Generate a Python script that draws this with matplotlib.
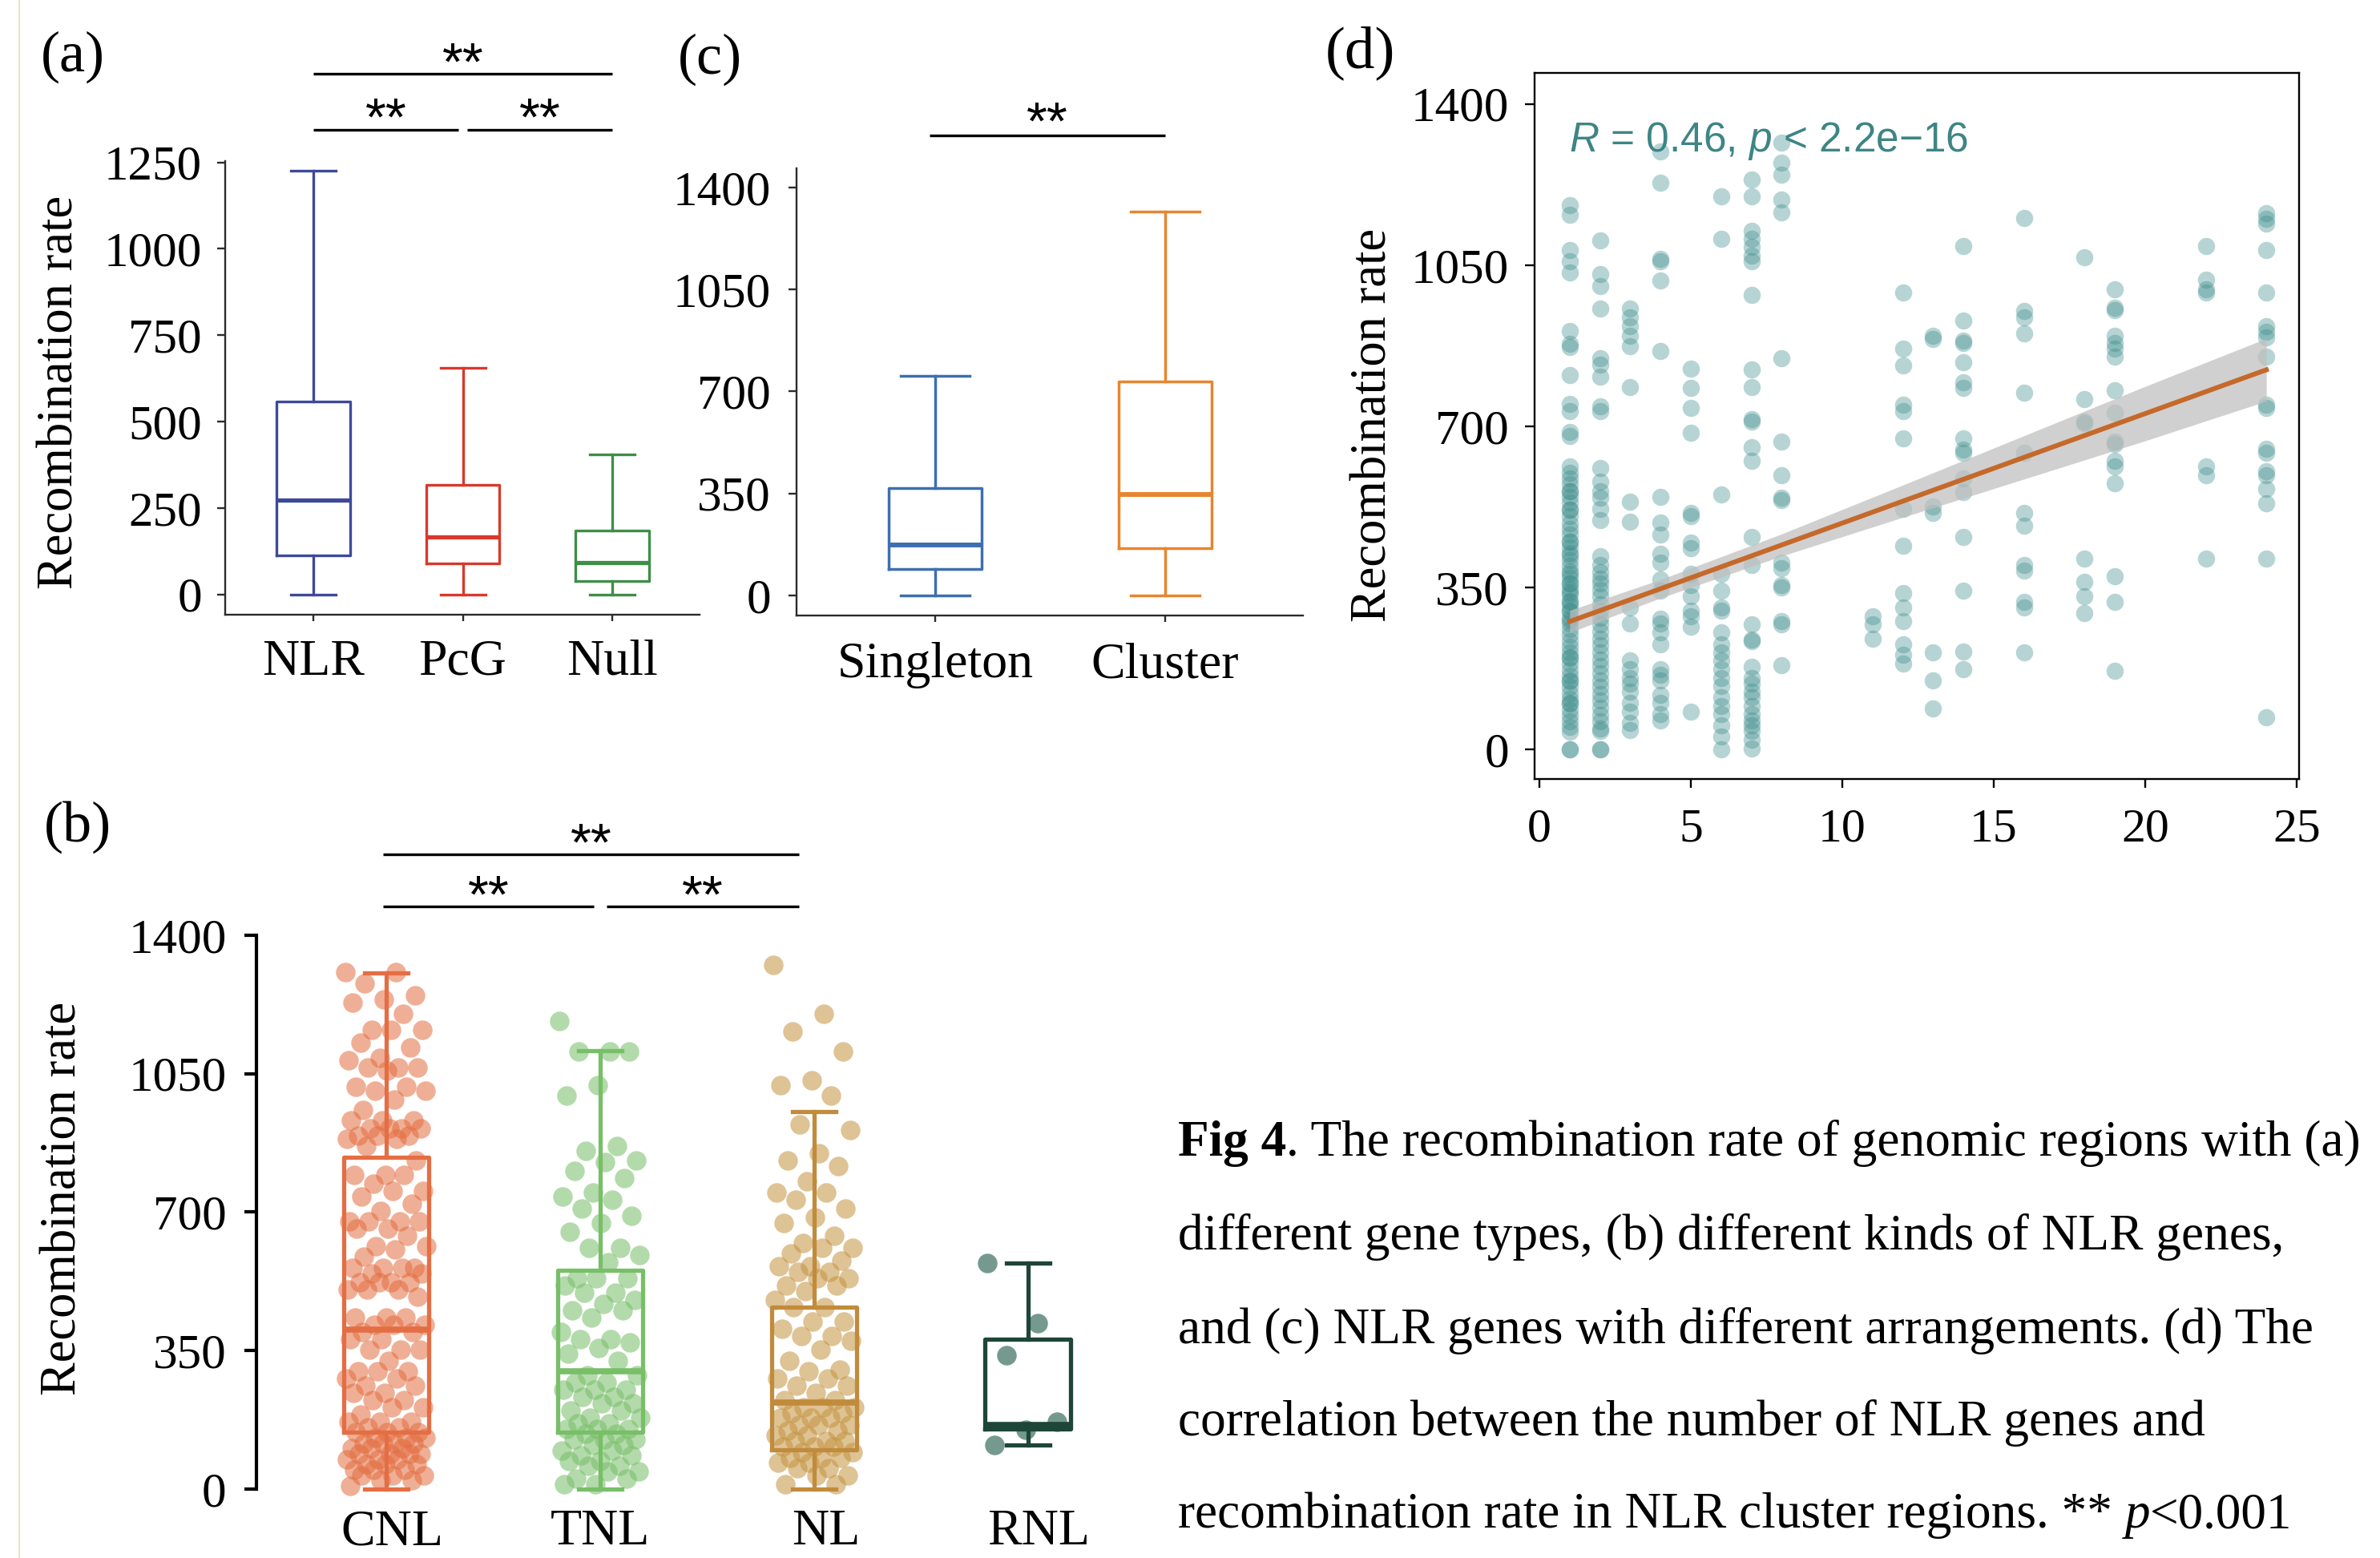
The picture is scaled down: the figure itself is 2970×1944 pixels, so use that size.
import numpy as np
import matplotlib
matplotlib.use('Agg')
import matplotlib.pyplot as plt
import matplotlib.transforms as mtransforms
from matplotlib.lines import Line2D

W, H, DPI = 2970, 1944, 100
SERIF = 'Liberation Serif'
SANS = 'Liberation Sans'

plt.rcParams['font.family'] = SERIF
plt.rcParams['mathtext.fontset'] = 'custom'
plt.rcParams['mathtext.rm'] = SANS
plt.rcParams['mathtext.it'] = SANS + ':italic'
plt.rcParams['mathtext.bf'] = SANS + ':bold'

# ---- (a) gene types: box summaries ----
a_groups = ['NLR', 'PcG', 'Null']
a_low = [0, 0, 0]
a_q1 = [112, 89, 39]
a_med = [274, 166, 93]
a_q3 = [558, 317, 185]
a_high = [1225, 656, 405]
a_colors = ['#3D4A9A', '#D8392B', '#3E8E48']

# ---- (c) arrangement ----
c_groups = ['Singleton', 'Cluster']
c_low = [0, 0]
c_q1 = [92, 161]
c_med = [172, 346]
c_q3 = [369, 734]
c_high = [753, 1318]
c_colors = ['#3D6FB0', '#E8852F']

# ---- (b) NLR kinds ----
b_groups = ['CNL', 'TNL', 'NL', 'RNL']
b_low = [0, 0, 0, 112]
b_q1 = [144, 144, 99, 153]
b_med = [404, 298, 219, 163]
b_q3 = [838, 553, 459, 379]
b_high = [1304, 1108, 954, 571]
b_box_colors = ['#E46E44', '#78BF68', '#C18B3C', '#1D4638']
b_pt_colors = ['#E36D40', '#76BD66', '#C4923F', '#3A6E60']

cnl_pts = [1306, 1306, 1279, 1247, 1238, 1229, 1202, 1161, 1161, 1161, 1129, 1116,
           1089, 1084, 1066, 1066, 1066, 1057, 1016, 1016, 1007, 1007, 985, 958,
           931, 931, 931, 912, 912, 912, 912, 894, 894, 894, 885, 885, 867, 831,
           795, 795, 795, 772, 754, 754, 740, 722, 704, 677, 677, 677, 677, 659, 659,
           641, 614, 614, 605, 587, 560, 560, 560, 560, 546, 546, 523, 523, 523, 523,
           505, 505, 505, 487, 433, 433, 433, 415, 415, 415, 397, 397, 379, 379,
           352, 352, 352, 324, 297, 297, 297, 279, 279, 261, 261, 243, 243, 225, 225,
           207, 207, 189, 171, 171, 171, 157, 157, 144, 144, 144, 130, 130, 130,
           116, 116, 116, 116, 103, 103, 103, 89, 89, 89, 89, 76, 76, 76, 62, 62, 62,
           49, 49, 49, 35, 35, 35, 22, 22, 8]
tnl_pts = [1184, 1107, 1107, 1107, 1021, 994, 867, 854, 831, 826, 804, 786, 750, 740,
           731, 709, 691, 673, 650, 609, 609, 591, 573, 532, 532, 532, 515, 496, 496,
           478, 469, 451, 451, 433, 397, 379, 379, 370, 356, 343, 324, 288, 288, 270,
           270, 252, 252, 252, 234, 234, 216, 216, 198, 198, 180, 180, 166, 166, 153,
           153, 153, 139, 139, 126, 126, 126, 112, 112, 98, 98, 85, 85, 71, 71, 58, 58,
           44, 44, 26, 26, 13, 13]
nl_pts = [1324, 1202, 1157, 1107, 1034, 1021, 994, 921, 908, 849, 831, 817, 777, 749,
          749, 731, 709, 686, 673, 641, 623, 609, 609, 596, 578, 564, 564, 550, 550,
          532, 532, 515, 515, 501, 478, 460, 460, 424, 424, 406, 388, 388, 374, 352,
          324, 302, 297, 279, 279, 261, 261, 243, 225, 225, 207, 207, 207, 193, 193,
          180, 180, 180, 162, 162, 162, 148, 148, 135, 135, 121, 121, 121, 107, 107,
          107, 94, 94, 80, 80, 80, 67, 67, 53, 53, 35, 35, 13, 13]
rnl_pts = [571, 420, 339, 170, 150, 112]
b_points = [cnl_pts, tnl_pts, nl_pts, rnl_pts]

# ---- (d) number of NLR genes vs recombination rate ----
d_counts = [1, 2, 3, 4, 5, 6, 7, 8, 11, 12, 13, 14, 16, 18, 19, 22, 24]
d_rates = [
    [1180, 1159, 1083, 1058, 1034, 908, 879, 872, 812, 749, 734, 688, 680, 613, 600,
     588, 575, 560, 560, 548, 535, 520, 520, 505, 490, 478, 465, 450, 450, 438, 425,
     420, 410, 398, 385, 380, 372, 360, 360, 348, 340, 335, 322, 320, 310, 300, 298,
     285, 280, 272, 260, 248, 235, 222, 210, 200, 198, 185, 172, 160, 150, 148, 135,
     122, 110, 100, 98, 85, 72, 60, 48, 38, 0, 0],
    [1104, 1031, 1005, 956, 848, 835, 808, 744, 734, 610, 580, 560, 545, 521, 497,
     418, 400, 383, 370, 360, 345, 332, 314, 300, 285, 270, 255, 240, 225, 210, 195,
     180, 165, 150, 135, 120, 105, 90, 75, 60, 45, 39, 0, 0],
    [955, 936, 918, 897, 875, 786, 536, 493, 308, 273, 192, 173, 155, 143, 125, 100,
     82, 57, 41],
    [1296, 1229, 1064, 1058, 1016, 863, 548, 491, 466, 424, 405, 369, 344, 283, 273,
     253, 228, 173, 161, 149, 118, 100, 76, 63],
    [826, 784, 741, 686, 513, 505, 448, 436, 381, 356, 332, 301, 289, 265, 82],
    [1199, 1107, 552, 381, 344, 308, 301, 253, 228, 210, 192, 173, 155, 137, 112, 94,
     76, 51, 27, 0],
    [1235, 1199, 1125, 1107, 1089, 1071, 1058, 985, 823, 786, 716, 710, 655, 625, 460,
     399, 271, 237, 234, 179, 155, 143, 125, 112, 94, 76, 63, 51, 39, 21, 2],
    [1315, 1272, 1247, 1193, 1164, 848, 668, 594, 546, 540, 405, 393, 356, 350, 277,
     271, 182],
    [289, 271, 240],
    [991, 869, 832, 747, 734, 674, 521, 442, 338, 308, 277, 228, 204, 186],
    [897, 890, 527, 513, 210, 149, 88],
    [1091, 930, 887, 881, 839, 796, 784, 674, 650, 643, 588, 558, 460, 344, 212, 173],
    [1152, 951, 936, 902, 774, 643, 513, 485, 399, 387, 320, 308, 210],
    [1067, 759, 710, 708, 414, 363, 332, 295],
    [997, 957, 952, 896, 881, 869, 851, 778, 729, 668, 662, 625, 613, 576, 375, 320,
     170],
    [1091, 1018, 997, 991, 613, 594, 414],
    [1162, 1150, 1140, 1083, 991, 918, 906, 893, 851, 747, 741, 652, 643, 603, 594,
     564, 533, 414, 70],
]
fit_x = [1, 4, 8, 12, 16, 20, 24]
fit_y = [277, 348, 443, 538, 633, 728, 823]
fit_lo = [253, 328, 419, 503, 586, 669, 755]
fit_hi = [301, 368, 467, 573, 680, 787, 891]

fig = plt.figure(figsize=(W / DPI, H / DPI), dpi=DPI)


def box(l, t, r, b):
    return [l / W, 1 - b / H, (r - l) / W, (b - t) / H]


def stats(low, q1, med, q3, high):
    return [dict(whislo=a, q1=b, med=c, q3=d, whishi=e, fliers=[])
            for a, b, c, d, e in zip(low, q1, med, q3, high)]


def draw_boxes(ax, st, colors, width, capw, lw, mlw):
    pos = np.arange(1, len(st) + 1)
    art = ax.bxp(st, positions=pos, widths=width, capwidths=capw, showfliers=False,
                 patch_artist=False, manage_ticks=False)
    for i, c in enumerate(colors):
        art['boxes'][i].set(color=c, linewidth=lw)
        art['medians'][i].set(color=c, linewidth=mlw, solid_capstyle='butt')
        for k in (2 * i, 2 * i + 1):
            art['whiskers'][k].set(color=c, linewidth=lw)
            art['caps'][k].set(color=c, linewidth=lw)
    return pos


def sig(ax, x0, x1, y, off, lw=2.4):
    ax.plot([x0, x1], [y, y], color='black', lw=lw, clip_on=False,
            solid_capstyle='butt')
    ax.annotate('**', xy=((x0 + x1) / 2, y), xytext=(0, off), textcoords='offset points',
                ha='center', va='baseline', fontsize=48, family=SANS,
                annotation_clip=False)


def style_classic(ax, col='#2b2b2b'):
    for s in ('top', 'right'):
        ax.spines[s].set_visible(False)
    for s in ('left', 'bottom'):
        ax.spines[s].set_color(col)
        ax.spines[s].set_linewidth(1.7)


# ---------- panel (a) ----------
ax_a = fig.add_axes(box(281, 201, 873, 767))
pos = draw_boxes(ax_a, stats(a_low, a_q1, a_med, a_q3, a_high), a_colors, 0.49, 0.3, 2.4, 3.8)
ax_a.set_xlim(0.41, 3.584)
ax_a.set_ylim(-58.7, 1253.7)
ax_a.set_yticks([0, 250, 500, 750, 1000, 1250])
ax_a.set_xticks(pos)
ax_a.set_xticklabels(a_groups)
style_classic(ax_a)
ax_a.tick_params(axis='y', length=7, width=1.7, pad=14, labelsize=44, color='#2b2b2b')
ax_a.tick_params(axis='x', length=6, width=1.7, pad=16, labelsize=46, color='#2b2b2b')
sig(ax_a, 1, 3, 1506, -5)
sig(ax_a, 1, 1.97, 1344, -5)
sig(ax_a, 2.03, 3, 1344, -5)

# ---------- panel (c) ----------
ax_c = fig.add_axes(box(994, 210, 1626, 768))
pos = draw_boxes(ax_c, stats(c_low, c_q1, c_med, c_q3, c_high), c_colors, 0.405, 0.3, 2.5, 4.3)
ax_c.set_xlim(0.397, 2.599)
ax_c.set_ylim(-68.8, 1466)
ax_c.set_yticks([0, 350, 700, 1050, 1400])
ax_c.set_xticks(pos)
ax_c.set_xticklabels(c_groups)
style_classic(ax_c)
ax_c.tick_params(axis='y', length=7, width=1.7, pad=16, labelsize=44, color='#2b2b2b')
ax_c.tick_params(axis='x', length=6, width=1.7, pad=18, labelsize=46, color='#2b2b2b')
sig(ax_c, 0.976, 2.0, 1579, -3.5)

# ---------- panel (b) ----------
ax_b = fig.add_axes(box(320, 1161, 1443, 1864))
for i, (vals, col) in enumerate(zip(b_points, b_pt_colors)):
    n = len(vals)
    jit = ((np.arange(n) * 0.618034) % 1.0 - 0.5) * 0.38
    alpha = 0.7 if i == 3 else 0.55
    ax_b.scatter(i + 1 + jit, vals, s=310, color=col, alpha=alpha, linewidths=0,
                 clip_on=False, zorder=2)
pos = draw_boxes(ax_b, stats(b_low, b_q1, b_med, b_q3, b_high), b_box_colors, 0.40, 0.2, 3.8, 5.5)
ax_b.set_xlim(0.393, 4.6)
ax_b.set_ylim(-12, 1412)
ax_b.set_yticks([0, 350, 700, 1050, 1400])
ax_b.set_xticks(pos)
ax_b.set_xticklabels(b_groups)
for s in ('top', 'right', 'bottom'):
    ax_b.spines[s].set_visible(False)
ax_b.spines['left'].set_linewidth(3.0)
ax_b.spines['left'].set_bounds(0, 1400)
ax_b.tick_params(axis='y', length=11, width=3.0, pad=16, labelsize=44)
ax_b.tick_params(axis='x', length=0, pad=14, labelsize=46)
# the labels in the reference sit a little right of their boxes
for lab, dx in zip(ax_b.get_xticklabels(), [7, 0, 15, 13]):
    lab.set_transform(lab.get_transform() +
                      mtransforms.ScaledTranslation(dx / DPI, 0, fig.dpi_scale_trans))
sig(ax_b, 0.985, 2.93, 1605, -5.5)
sig(ax_b, 0.985, 1.97, 1473, -5.5)
sig(ax_b, 2.03, 2.93, 1473, -5.5)

# ---------- panel (d) ----------
ax_d = fig.add_axes(box(1915, 91, 2869, 972))
xs = np.concatenate([[c] * len(v) for c, v in zip(d_counts, d_rates)])
ys = np.concatenate(d_rates)
ax_d.scatter(xs, ys, s=240, color='#3C8C8C', alpha=0.37, linewidths=0, zorder=2)
ax_d.fill_between(fit_x, fit_lo, fit_hi, color='#BEBEBE', alpha=0.72, linewidth=0, zorder=3)
ax_d.plot(fit_x, fit_y, color='#C5692B', lw=4.3, zorder=4)
ax_d.set_xlim(-0.159, 25.08)
ax_d.set_ylim(-64.7, 1467)
ax_d.set_xticks([0, 5, 10, 15, 20, 25])
ax_d.set_yticks([0, 350, 700, 1050, 1400])
for s in ax_d.spines.values():
    s.set_color('black')
    s.set_linewidth(1.7)
ax_d.tick_params(axis='y', length=9, width=1.7, pad=14, labelsize=44)
ax_d.tick_params(axis='x', length=8, width=1.7, pad=18, labelsize=43)
ax_d.text(1958 / W, 1 - 189 / H, r'$R$ = 0.46, $p$ < 2.2e$-$16', transform=fig.transFigure,
          family=SANS, fontsize=37, color='#3E8585', ha='left', va='baseline')

# ---------- labels ----------
def ftext(x, y, s, **kw):
    return fig.text(x / W, 1 - y / H, s, **kw)

ftext(51, 89, '(a)', fontsize=52, va='baseline')
ftext(846, 92, '(c)', fontsize=52, va='baseline')
ftext(1654, 84, '(d)', fontsize=54, va='baseline')
ftext(55, 1050, '(b)', fontsize=52, va='baseline')
ftext(76, 489, 'Recombination rate', fontsize=45, rotation=90, ha='center', va='center')
ftext(80, 1495, 'Recombination rate', fontsize=45, rotation=90, ha='center', va='center')
ftext(1714, 530, 'Recombination rate', fontsize=45, rotation=90, ha='center', va='center')

# faint page edge
fig.add_artist(Line2D([24 / W, 24 / W], [0, 1], color='#EEDFCB', lw=1.5))

# ---------- caption ----------
renderer = fig.canvas.get_renderer()


def run(x, y, pieces, size=45.5):
    for s, kw in pieces:
        t = ftext(x, y, s, fontsize=size, va='baseline', ha='left', family=SERIF, **kw)
        x += t.get_window_extent(renderer=renderer).width


cap_x = 1470
cap_lines = [
    [('Fig 4', dict(fontweight='bold')), ('. The recombination rate of genomic regions with (a)', {})],
    [('different gene types, (b) different kinds of NLR genes,', {})],
    [('and (c) NLR genes with different arrangements. (d) The', {})],
    [('correlation between the number of NLR genes and', {})],
    [('recombination rate in NLR cluster regions. **', {}), (' p', dict(style='italic')),
     ('<0.001', {})],
]
cap_y = [1442, 1559, 1676, 1791, 1906]
for pieces, y in zip(cap_lines, cap_y):
    run(cap_x, y, pieces)

fig.savefig('out.png', dpi=DPI)
